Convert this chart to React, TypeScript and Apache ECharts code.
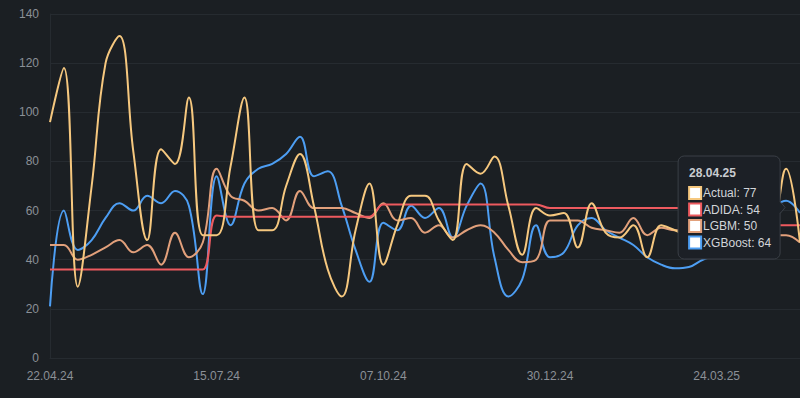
import React, { useEffect, useRef } from "react";
import * as echarts from "echarts";

const dates = [
  "22.04.24", "29.04.24", "06.05.24", "13.05.24", "20.05.24", "27.05.24", "03.06.24", "10.06.24", "17.06.24", "24.06.24",
  "01.07.24", "08.07.24", "15.07.24", "22.07.24", "29.07.24", "05.08.24", "12.08.24", "19.08.24", "26.08.24", "02.09.24",
  "09.09.24", "16.09.24", "23.09.24", "30.09.24", "07.10.24", "14.10.24", "21.10.24", "28.10.24", "04.11.24", "11.11.24",
  "18.11.24", "25.11.24", "02.12.24", "09.12.24", "16.12.24", "23.12.24", "30.12.24", "06.01.25", "13.01.25", "20.01.25",
  "27.01.25", "03.02.25", "10.02.25", "17.02.25", "24.02.25", "03.03.25", "10.03.25", "17.03.25", "24.03.25", "31.03.25",
  "07.04.25", "14.04.25", "21.04.25", "28.04.25", "05.05.25",
];

const actual = [
  96, 118, 29, 70, 120, 131, 84, 48, 85, 79, 106, 50, 50,
  78, 106, 52, 52, 70, 83, 62, 36, 25, 52, 71, 38,
  54, 66, 66, 56, 48, 79, 75, 82, 62, 42, 61, 58, 59, 45,
  63, 51, 49, 54, 41, 54, 52, 50, 52, 50, 48, 50, 48, 52, 77, 47,
];

const adida = [
  36, 36, 36, 36, 36, 36, 36, 36, 36, 36, 36, 36, 58,
  57.5, 57.5, 57.5, 57.5, 57.5, 57.5, 57.5, 57.5, 57.5, 57.5, 57.5, 62.5,
  62.5, 62.5, 62.5, 62.5, 62.5, 62.5, 62.5, 62.5, 62.5, 62.5, 62.5, 61, 61, 61,
  61, 61, 61, 61, 61, 61, 61, 61, 61, 61, 61, 61, 61, 54, 54, 54,
];

const lgbm = [
  46, 46, 40, 42, 45, 48, 43, 46, 38, 51, 41, 47, 77,
  66, 64, 60, 61, 56, 68, 61, 61, 61, 59, 57, 63,
  56, 57, 51, 54, 49, 52, 54, 51, 44, 39, 40, 56, 56, 56,
  53, 52, 51, 57, 50, 53, 52, 52, 53, 53, 52, 51, 50, 50, 50, 47,
];

const xgboost = [
  21, 60, 44, 48, 57, 63, 60, 66, 63, 68, 62, 26, 74,
  54, 71, 77, 79, 83, 90, 74, 76, 62, 44, 31, 55,
  52, 62, 57, 61, 49, 62, 71, 41, 25, 32, 54, 41, 43, 54,
  57, 52, 49, 46, 41, 38, 36.5, 37, 40, 42, 46, 51, 56, 61, 64, 59,
];

const seriesNames = ["Actual", "ADIDA", "LGBM", "XGBoost"];
const seriesColors = ["#f6c87f", "#ee5a5f", "#e2a07b", "#4d9ef3"];
const seriesData = [actual, adida, lgbm, xgboost];
const tooltipIndex = 53;

const BG = "#1b1f23";
const FONT = "'Liberation Sans', Arial, Helvetica, sans-serif";

export default function App() {
  const ref = useRef<HTMLDivElement>(null);

  useEffect(() => {
    document.body.style.margin = "0";
    document.body.style.background = BG;
    const chart = echarts.init(ref.current!, null, { renderer: "svg" });
    chart.setOption({
      animation: false,
      backgroundColor: BG,
      textStyle: { fontFamily: FONT },
      grid: { left: 50, right: 0, top: 14, bottom: 40, containLabel: false, outerBoundsMode: "none" },
      xAxis: {
        type: "category",
        data: dates,
        boundaryGap: false,
        axisLine: { show: true, lineStyle: { color: "#262b30", width: 1 } },
        axisTick: { show: false },
        axisLabel: { interval: 11, color: "#8b9097", fontSize: 12, margin: 12, fontFamily: FONT },
        splitLine: { show: false },
      },
      yAxis: {
        type: "value",
        min: 0,
        max: 140,
        interval: 20,
        axisLine: { show: true, lineStyle: { color: "#262b30", width: 1 } },
        axisTick: { show: false },
        axisLabel: { color: "#8b9097", fontSize: 12, margin: 11, fontFamily: FONT },
        splitLine: { show: true, lineStyle: { color: "#262b30", width: 1 } },
      },
      series: seriesData.map((d, k) => ({
        name: seriesNames[k],
        type: "line",
        data: d,
        smooth: 0.4,
        showSymbol: false,
        symbol: "none",
        z: 10 - k,
        lineStyle: { color: seriesColors[k], width: 2 },
        itemStyle: { color: seriesColors[k] },
      })),
    });

    const i = tooltipIndex;
    const avg = seriesData.reduce((s, d) => s + d[i], 0) / seriesData.length;
    const [px, py] = chart.convertToPixel({ xAxisIndex: 0, yAxisIndex: 0 }, [dates[i], avg]) as number[];
    const w = 102;
    const h = 103;
    const left = px - 6 - w;
    const top = py - h / 2;
    const Z = 200;
    const children: any[] = [
      {
        type: "rect",
        z: Z,
        shape: { x: 0, y: 0, width: w, height: h, r: 6 },
        style: { fill: "#1c2026", stroke: "#3a3f46", lineWidth: 1 },
      },
      {
        type: "polygon",
        z: Z + 1,
        shape: { points: [[w - 1, h / 2 - 6], [w + 5, h / 2], [w - 1, h / 2 + 6]] },
        style: { fill: "#1c2026" },
      },
      {
        type: "polyline",
        z: Z + 1,
        shape: { points: [[w, h / 2 - 6], [w + 5, h / 2], [w, h / 2 + 6]] },
        style: { stroke: "#3a3f46", lineWidth: 1, fill: null },
      },
      {
        type: "text",
        z: Z + 2,
        x: 11,
        y: 17,
        style: {
          text: dates[i],
          fill: "#c9ccd1",
          font: `bold 12px ${FONT}`,
          verticalAlign: "middle",
        },
      },
    ];
    seriesNames.forEach((name, k) => {
      const cy = 37 + k * 16.5;
      children.push({
        type: "rect",
        z: Z + 2,
        shape: { x: 11, y: cy - 6, width: 12, height: 12 },
        style: { fill: "#ffffff", stroke: seriesColors[k], lineWidth: 2 },
      });
      children.push({
        type: "text",
        z: Z + 2,
        x: 25,
        y: cy,
        style: {
          text: `${name}: ${seriesData[k][i]}`,
          fill: "#d2d5d9",
          font: `12px ${FONT}`,
          verticalAlign: "middle",
        },
      });
    });
    chart.setOption({
      graphic: [{ type: "group", x: left, y: top, z: Z, children }],
    });

    return () => chart.dispose();
  }, []);

  return <div ref={ref} style={{ position: "fixed", left: 0, top: 0, width: 800, height: 398 }} />;
}
